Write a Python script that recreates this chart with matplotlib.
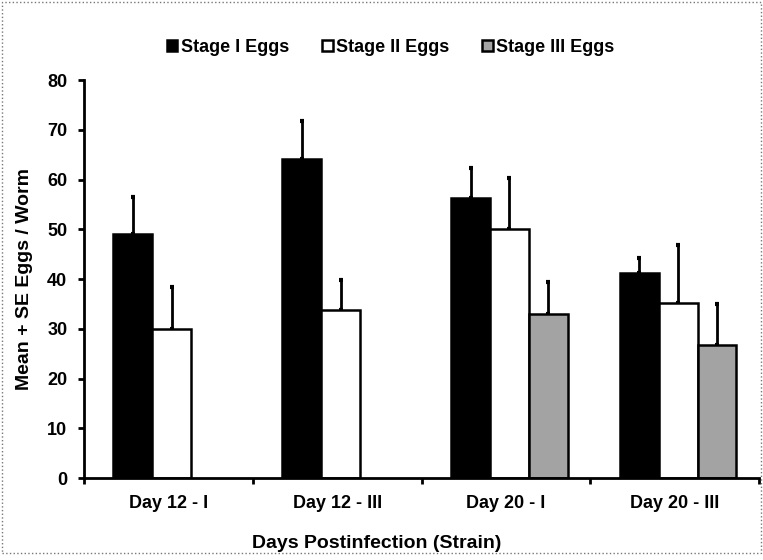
import numpy as np
import matplotlib.pyplot as plt
from matplotlib.patches import Patch, Rectangle

plt.rcParams['font.family'] = ['Liberation Sans', 'DejaVu Sans']
plt.rcParams['font.weight'] = 'bold'

# --- data: mean eggs per worm and SE, by stage ---
groups = ['Day 12 - I', 'Day 12 - III', 'Day 20 - I', 'Day 20 - III']
stages = ['Stage I Eggs', 'Stage II Eggs', 'Stage III Eggs']
stage1_mean = [49.0, 64.2, 56.3, 41.2]
stage1_se = [7.4, 7.5, 6.0, 3.1]
stage2_mean = [30.0, 33.8, 50.0, 35.1]
stage2_se = [8.3, 6.1, 10.3, 11.7]
stage3_mean = [np.nan, np.nan, 33.0, 26.8]
stage3_se = [np.nan, np.nan, 6.5, 8.1]

colors = ['black', 'white', '#a3a3a3']

fig = plt.figure(figsize=(7.63, 5.60), dpi=100)
ax = fig.add_axes([0.110, 0.1464, 0.885, 0.7107])

x = np.arange(len(groups))
w = 0.23
series = [(stage1_mean, stage1_se), (stage2_mean, stage2_se), (stage3_mean, stage3_se)]
for i, (m, se) in enumerate(series):
    m = np.array(m)
    se = np.array(se)
    pos = x + (i - 1) * w + 0.02
    ax.bar(pos, m, w, color=colors[i], edgecolor='black', linewidth=1.8, zorder=2)
    # upward-only error bars
    ax.errorbar(pos, m, yerr=[np.zeros_like(se), se], fmt='none', ecolor='black',
                elinewidth=2, capsize=1.5, capthick=3, zorder=1)

ax.set_xlim(-0.5, 3.5)
ax.set_ylim(0, 80)
ax.set_yticks(np.arange(0, 81, 10))
ax.set_xticks(np.arange(-0.5, 4.0, 1.0))
ax.set_xticklabels([])
ax.set_xticks(x, minor=True)
ax.set_xticklabels(groups, minor=True, fontsize=13, fontweight='bold')
ax.tick_params(axis='x', which='minor', length=0, pad=12)
ax.tick_params(axis='x', which='major', length=4, width=2, direction='out')
ax.tick_params(axis='y', length=4, width=2, direction='out', labelsize=13, pad=8)
for lab in ax.get_yticklabels():
    lab.set_fontweight('bold')

for s in ['top', 'right']:
    ax.spines[s].set_visible(False)
ax.spines['left'].set_linewidth(2)
ax.spines['bottom'].set_linewidth(2)

ax.set_ylabel('Mean + SE Eggs / Worm', fontsize=14, fontweight='bold', labelpad=10)
fig.text(0.494, 0.030, 'Days Postinfection (Strain)', fontsize=14, fontweight='bold',
         ha='center', va='center')

handles = [Patch(facecolor=c, edgecolor='black', linewidth=1.8) for c in colors]
fig.legend(handles, stages, loc='center', bbox_to_anchor=(0.512, 0.915), ncol=3,
           frameon=False, handlelength=0.6, handleheight=0.6,
           handletextpad=0.2, columnspacing=1.8, prop={'weight': 'bold', 'size': 13})

# dotted frame around the whole figure
fig.patches.append(Rectangle((0.003, 0.012), 0.994, 0.984, transform=fig.transFigure,
                             fill=False, edgecolor='#777777', linestyle=':', linewidth=1))

fig.savefig('out.png', dpi=100)
